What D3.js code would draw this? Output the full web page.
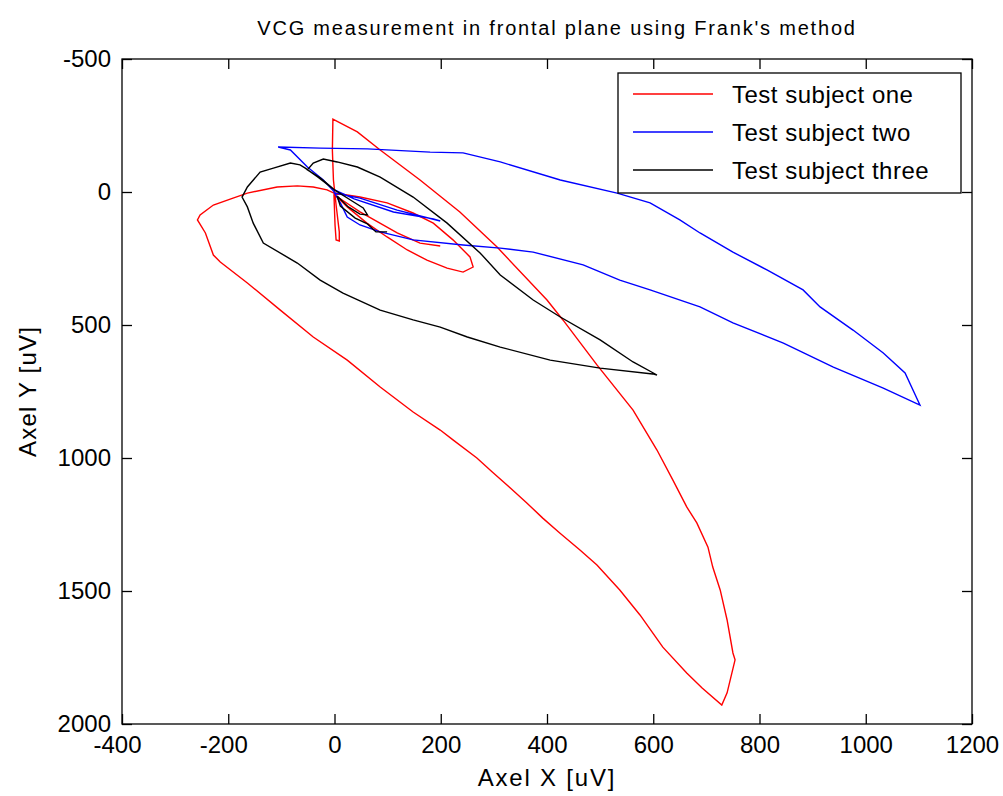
<!DOCTYPE html>
<html>
<head>
<meta charset="utf-8">
<script src="https://cdn.jsdelivr.net/npm/d3@7"></script>
<style>
  html, body { margin: 0; padding: 0; background: #fff; }
  svg { display: block; }
  text { font-family: "Liberation Sans", Arial, sans-serif; fill: #000; }
</style>
</head>
<body>
<svg id="chart" width="1003" height="796"></svg>
<script>
// Frontal-plane vectorcardiogram loops (Frank lead system), values in microvolts.
const oneX = [0, -1, 1, 3, 9, 9, 3, -2, -4, -3, 43, 86, 161, 236, 306, 400, 430, 494, 562, 607, 637, 663, 682, 703, 712, 726, 739, 750, 754, 739, 729, 692, 663, 618, 575, 537, 494, 462, 424, 392, 362, 331, 297, 268, 223, 199, 148, 86, 24, -40, -102, -164, -215, -228, -243, -258, -253, -228, -191, -164, -108, -70, -40, -14, -1, 48, 99, 148, 186, 223, 255, 261, 242, 212, 174, 137, 99, 61, 24, 3, 48, 118, 161, 199];
const oneY = [0, 11, 124, 180, 184, 150, 49, -45, -158, -274, -226, -158, -45, 75, 207, 406, 481, 650, 820, 970, 1083, 1184, 1244, 1335, 1410, 1496, 1609, 1733, 1759, 1883, 1929, 1865, 1808, 1711, 1590, 1496, 1402, 1346, 1282, 1226, 1169, 1113, 1053, 1000, 932, 895, 827, 733, 632, 545, 444, 342, 263, 237, 154, 105, 86, 49, 23, 4, -19, -23, -19, -8, 4, 19, 41, 79, 117, 180, 244, 282, 301, 286, 256, 218, 169, 117, 56, 15, 75, 154, 192, 203];

const twoX = [0, -21, -51, -83, -106, -27, 62, 180, 242, 312, 425, 532, 594, 650, 688, 750, 814, 882, 914, 976, 1033, 1074, 1102, 1033, 939, 845, 750, 688, 594, 537, 468, 374, 312, 242, 148, 86, 48, 24, 11, 0, 48, 118, 199, 186, 111, 37, 0];
const twoY = [0, -45, -94, -158, -169, -165, -162, -150, -147, -113, -45, 4, 41, 105, 154, 226, 293, 368, 432, 519, 605, 680, 801, 737, 658, 568, 492, 432, 368, 331, 274, 226, 211, 199, 180, 150, 124, 94, 41, 4, 23, 68, 109, 101, 75, 26, -8];

const threeX = [0, -27, -51, -40, -21, 5, 43, 86, 148, 212, 274, 312, 374, 425, 500, 562, 607, 599, 500, 406, 312, 250, 199, 148, 86, 16, -27, -70, -134, -153, -164, -174, -164, -140, -115, -83, -65, -55, -31, 0, 30, 54, 62, 48, 26, 5, 11, 39, 62, 78, 99];
const threeY = [-8, -53, -83, -109, -124, -113, -94, -56, 19, 117, 229, 312, 406, 470, 556, 639, 688, 684, 662, 632, 583, 545, 508, 481, 444, 380, 331, 267, 192, 117, 56, 19, -19, -75, -90, -109, -102, -90, -56, -8, 30, 60, 86, 83, 56, 15, 53, 98, 120, 150, 150];

const seriesNames = ["Test subject one", "Test subject two", "Test subject three"];
const seriesColors = ["#ff0000", "#0000ff", "#000000"];

const xTicks = [-400, -200, 0, 200, 400, 600, 800, 1000, 1200];
const yTicks = [-500, 0, 500, 1000, 1500, 2000];

const titleText = "VCG measurement in frontal plane using Frank's method";
const xLabel = "Axel X [uV]";
const yLabel = "Axel Y [uV]";

const series = [
  { name: seriesNames[0], color: seriesColors[0], xs: oneX, ys: oneY },
  { name: seriesNames[1], color: seriesColors[1], xs: twoX, ys: twoY },
  { name: seriesNames[2], color: seriesColors[2], xs: threeX, ys: threeY }
];

const svg = d3.select("#chart");
const box = { left: 122, right: 972, top: 59, bottom: 724 };

const x = d3.scaleLinear().domain([-400, 1200]).range([box.left, box.right]);
// Y grows downward, as in the original axis orientation
const y = d3.scaleLinear().domain([-500, 2000]).range([box.top, box.bottom]);

// Clip the loops to the axes box
svg.append("defs").append("clipPath").attr("id", "plotClip")
  .append("rect").attr("x", box.left).attr("y", box.top)
  .attr("width", box.right - box.left).attr("height", box.bottom - box.top);

const line = d3.line().x(d => x(d[0])).y(d => y(d[1]));

const plot = svg.append("g").attr("clip-path", "url(#plotClip)");
series.forEach(s => {
  const pts = s.xs.map((v, i) => [v, s.ys[i]]);
  plot.append("path")
    .datum(pts)
    .attr("fill", "none")
    .attr("stroke", s.color)
    .attr("stroke-width", 1.4)
    .attr("stroke-linejoin", "miter")
    .attr("d", line);
});

const tickFont = 24;
const fmt = d => String(d);

// Bottom axis with labels, ticks pointing inward
const gx = svg.append("g").attr("transform", `translate(0,${box.bottom})`)
  .call(d3.axisBottom(x).tickValues(xTicks).tickFormat(fmt).tickSize(-10).tickPadding(12));
// Top axis, ticks only
const gxt = svg.append("g").attr("transform", `translate(0,${box.top})`)
  .call(d3.axisTop(x).tickValues(xTicks).tickFormat("").tickSize(-10));
// Left axis with labels
const gy = svg.append("g").attr("transform", `translate(${box.left},0)`)
  .call(d3.axisLeft(y).tickValues(yTicks).tickFormat(fmt).tickSize(-10).tickPadding(11));
// Right axis, ticks only
const gyr = svg.append("g").attr("transform", `translate(${box.right},0)`)
  .call(d3.axisRight(y).tickValues(yTicks).tickFormat("").tickSize(-10));

[gx, gxt, gy, gyr].forEach(g => {
  g.select(".domain").remove();
  g.selectAll(".tick line").attr("stroke", "#000").attr("stroke-width", 1.3);
  g.selectAll("text")
    .attr("font-family", "Liberation Sans, Arial, sans-serif")
    .attr("font-size", tickFont)
    .attr("fill", "#000");
});
// Minus signs widen negative labels to the left
gx.selectAll(".tick text").attr("dx", d => d < 0 ? -5 : 0);

// Axes box
svg.append("rect")
  .attr("x", box.left).attr("y", box.top)
  .attr("width", box.right - box.left).attr("height", box.bottom - box.top)
  .attr("fill", "none").attr("stroke", "#000").attr("stroke-width", 1.3);

// Title
svg.append("text")
  .attr("x", 557).attr("y", 35)
  .attr("text-anchor", "middle")
  .attr("font-size", 20)
  .attr("letter-spacing", 1.8)
  .text(titleText);

// Axis labels
svg.append("text")
  .attr("x", (box.left + box.right) / 2).attr("y", 786)
  .attr("text-anchor", "middle")
  .attr("font-size", 24)
  .attr("letter-spacing", 1.8)
  .text(xLabel);

svg.append("text")
  .attr("transform", `translate(36,${(box.top + box.bottom) / 2}) rotate(-90)`)
  .attr("text-anchor", "middle")
  .attr("font-size", 24)
  .attr("letter-spacing", 1.2)
  .text(yLabel);

// Legend
const lg = svg.append("g").attr("transform", `translate(${box.right - 354},${box.top + 14})`);
lg.append("rect")
  .attr("x", 0).attr("y", 0).attr("width", 343).attr("height", 120)
  .attr("fill", "#fff").attr("stroke", "#000").attr("stroke-width", 1.3);
series.forEach((s, i) => {
  const cy = 21 + i * 38;
  lg.append("line")
    .attr("x1", 15).attr("x2", 95).attr("y1", cy).attr("y2", cy)
    .attr("stroke", s.color).attr("stroke-width", 1.4);
  lg.append("text")
    .attr("x", 114).attr("y", cy + 9)
    .attr("font-size", 24)
    .attr("letter-spacing", 0.5)
    .text(s.name);
});
</script>
</body>
</html>
